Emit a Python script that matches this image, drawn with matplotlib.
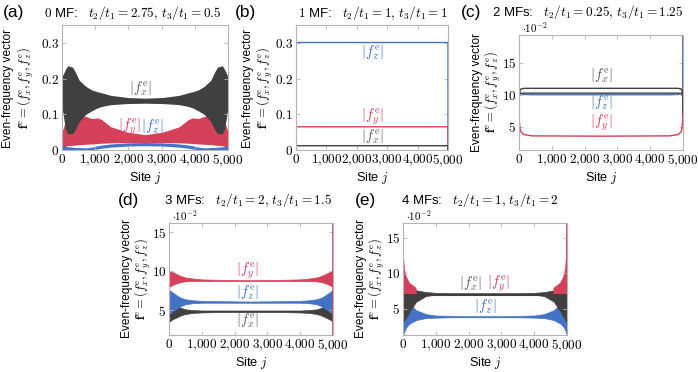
import matplotlib
matplotlib.use("Agg")
import matplotlib.pyplot as plt
from matplotlib.ticker import FixedLocator, FuncFormatter

plt.rcParams['mathtext.fontset'] = 'cm'
plt.rcParams['font.family'] = ['Liberation Sans', 'DejaVu Sans']

W, H = 698, 372
GRAY, RED, BLUE = '#404040', '#d5405a', '#4473c5'
FRAME = '#b4b4b4'

# (a) 0 MF
a_sites = [0, 100, 170, 320, 420, 520, 720, 900, 1070, 1200, 1470, 1970, 2500,
           3030, 3530, 3800, 3930, 4100, 4280, 4480, 4580, 4680, 4830, 4900, 5000]
a_fx_hi = [0.205, 0.225, 0.236, 0.232, 0.215, 0.195, 0.178, 0.168, 0.163, 0.160, 0.153, 0.147, 0.145,
           0.147, 0.153, 0.160, 0.163, 0.168, 0.178, 0.195, 0.215, 0.232, 0.236, 0.225, 0.205]
a_fx_lo = [0.120, 0.060, 0.045, 0.046, 0.060, 0.080, 0.100, 0.110, 0.118, 0.122, 0.127, 0.130, 0.131,
           0.130, 0.127, 0.122, 0.118, 0.110, 0.100, 0.080, 0.060, 0.046, 0.045, 0.060, 0.120]
a_fy_hi = [0.050, 0.080, 0.090, 0.095, 0.097, 0.097, 0.094, 0.088, 0.090, 0.085, 0.065, 0.050, 0.043,
           0.050, 0.065, 0.085, 0.090, 0.088, 0.094, 0.097, 0.097, 0.095, 0.090, 0.080, 0.050]
a_fy_lo = [0.004, 0.010, 0.012, 0.013, 0.014, 0.015, 0.016, 0.017, 0.018, 0.019, 0.020, 0.021, 0.021,
           0.021, 0.020, 0.019, 0.018, 0.017, 0.016, 0.015, 0.014, 0.013, 0.012, 0.010, 0.004]
a_fz_hi = [0.012, 0.010, 0.009, 0.008, 0.007, 0.007, 0.006, 0.008, 0.012, 0.014, 0.017, 0.020, 0.021,
           0.020, 0.017, 0.014, 0.012, 0.008, 0.006, 0.007, 0.007, 0.008, 0.009, 0.010, 0.012]
a_fz_lo = [0.000, 0.000, 0.000, 0.000, 0.000, 0.000, 0.000, 0.001, 0.003, 0.005, 0.008, 0.011, 0.012,
           0.011, 0.008, 0.005, 0.003, 0.001, 0.000, 0.000, 0.000, 0.000, 0.000, 0.000, 0.000]

# (b) 1 MF
b_sites = [0, 1, 4999, 5000]
b_fx = [0, 0.012, 0.012, 0]
b_fy = [0, 0.065, 0.065, 0]
b_fz = [0, 0.301, 0.301, 0]

# (c) 2 MFs (units of 1e-2)
c_sites = [0, 10, 30, 60, 150, 400, 2500, 4600, 4850, 4940, 4970, 4990, 5000]
c_fx_hi = [9.5, 10.3, 10.7, 10.9, 11.0, 11.0, 11.0, 11.0, 11.0, 10.9, 10.7, 10.3, 7.0]
c_fx_lo = [9.5, 9.9, 10.1, 10.2, 10.25, 10.25, 10.25, 10.25, 10.25, 10.2, 10.1, 9.9, 9.5]
c_fz = [20.0, 10.9, 10.4, 10.2, 10.05, 10.0, 10.0, 10.0, 10.05, 10.2, 10.4, 10.9, 20.0]
c_fy = [20.0, 6.0, 4.8, 4.2, 3.8, 3.6, 3.55, 3.6, 3.8, 4.2, 4.8, 6.0, 20.0]

# (d) 3 MFs (units of 1e-2)
d_sites = [0, 100, 200, 350, 500, 750, 1000, 1500, 2500, 3500, 4000, 4250, 4500, 4650, 4800, 4900, 5000]
d_fy_hi = [10.0, 9.9, 9.7, 9.4, 9.2, 9.05, 8.95, 8.9, 8.85, 8.9, 8.95, 9.05, 9.2, 9.4, 9.7, 9.9, 10.0]
d_fy_lo = [8.0, 8.2, 8.4, 8.6, 8.7, 8.75, 8.75, 8.75, 8.75, 8.75, 8.75, 8.75, 8.7, 8.6, 8.4, 8.2, 8.0]
d_fz_hi = [7.6, 7.3, 7.0, 6.6, 6.4, 6.25, 6.2, 6.15, 6.1, 6.15, 6.2, 6.25, 6.4, 6.6, 7.0, 7.3, 7.6]
d_fz_lo = [4.5, 4.8, 5.1, 5.5, 5.75, 5.9, 5.95, 5.95, 5.95, 5.95, 5.95, 5.9, 5.75, 5.5, 5.1, 4.8, 4.5]
d_fx_hi = [7.0, 6.2, 5.8, 5.3, 5.1, 5.0, 4.95, 4.95, 4.95, 4.95, 4.95, 5.0, 5.1, 5.3, 5.8, 6.2, 7.0]
d_fx_lo = [3.5, 3.8, 4.0, 4.3, 4.5, 4.65, 4.7, 4.75, 4.75, 4.75, 4.7, 4.65, 4.5, 4.3, 4.0, 3.8, 3.5]

# (e) 4 MFs (units of 1e-2)
e_sites = [0, 20, 50, 100, 200, 400, 700, 1000, 1500, 2500, 3500, 4000, 4300, 4600, 4800, 4900, 4950, 4980, 5000]
e_fy_hi = [17.5, 12.0, 10.5, 9.5, 8.6, 7.9, 7.45, 7.3, 7.2, 7.2, 7.2, 7.3, 7.45, 7.9, 8.6, 9.5, 10.5, 12.0, 17.5]
e_fy_lo = [7.0, 7.0, 7.0, 7.0, 7.0, 7.0, 7.0, 7.0, 7.0, 7.0, 7.0, 7.0, 7.0, 7.0, 7.0, 7.0, 7.0, 7.0, 7.0]
e_fx_hi = [10.5, 9.8, 9.3, 8.8, 8.2, 7.6, 7.35, 7.25, 7.2, 7.2, 7.2, 7.25, 7.35, 7.6, 8.2, 8.8, 9.3, 9.8, 10.5]
e_fx_lo = [3.0, 3.2, 3.4, 3.8, 4.6, 6.0, 6.8, 7.0, 7.05, 7.05, 7.05, 7.0, 6.8, 6.0, 4.6, 3.8, 3.4, 3.2, 3.0]
e_fz_hi = [7.0, 6.8, 6.6, 6.3, 5.7, 4.8, 4.25, 4.05, 4.0, 3.95, 4.0, 4.05, 4.25, 4.8, 5.7, 6.3, 6.6, 6.8, 7.0]
e_fz_lo = [1.0, 1.5, 1.9, 2.4, 2.9, 3.4, 3.7, 3.75, 3.8, 3.8, 3.8, 3.75, 3.7, 3.4, 2.9, 2.4, 1.9, 1.5, 1.0]

x_ticks = [0, 1000, 2000, 3000, 4000, 5000]
FS = 9.5

fig = plt.figure(figsize=(W / 100, H / 100), dpi=100)


def make_ax(x0, x1, y0, y1, ylim, yticks, ylabels):
    ax = fig.add_axes([x0 / W, 1 - y1 / H, (x1 - x0) / W, (y1 - y0) / H])
    ax.set_xlim(0, 5000)
    ax.set_ylim(*ylim)
    ax.xaxis.set_major_locator(FixedLocator(x_ticks))
    ax.xaxis.set_major_formatter(FuncFormatter(
        lambda v, p: r'$0$' if v == 0 else r'$%d{,}000$' % (v // 1000)))
    ax.set_yticks(yticks)
    ax.set_yticklabels(ylabels)
    ax.tick_params(direction='in', length=3, width=0.6, color=FRAME, top=True, right=True,
                   labelsize=FS, pad=2)
    for s in ax.spines.values():
        s.set_color(FRAME)
        s.set_linewidth(0.8)
    ax.set_xlabel(r'Site $j$', fontsize=9.2, labelpad=1)
    return ax


def ylab(x1, x2, yc):
    fig.text(x1 / W, 1 - yc / H, 'Even-frequency vector', rotation=90,
             ha='center', va='center', fontsize=8.6)
    fig.text(x2 / W, 1 - yc / H,
             r'$\mathbf{f}^{\rm e} = (f_x^{\rm e}, f_y^{\rm e}, f_z^{\rm e})$',
             rotation=90, ha='center', va='center', fontsize=9)


def title(letter, lx, tx, y, text):
    fig.text(lx / W, 1 - y / H, letter, ha='left', va='center', fontsize=12.5)
    fig.text(tx / W, 1 - y / H, text, ha='center', va='center', fontsize=FS)


def lab(ax, x, y, name, color):
    ax.text(x, y, r'$|f_%s^{\rm e}|$' % name, color=color, ha='center', va='center',
            fontsize=FS + 1)


def offset(ax):
    ax.text(0.02, 1.0, r'$\cdot 10^{-2}$', transform=ax.transAxes, fontsize=7.8,
            va='bottom', ha='left')


# ---- (a)
ax = make_ax(62, 228, 25, 150, (0, 0.35), [0, 0.1, 0.2, 0.3],
             [r'$0$', r'$0.1$', r'$0.2$', r'$0.3$'])
ax.fill_between(a_sites, a_fy_lo, a_fy_hi, color=RED, lw=0)
ax.fill_between(a_sites, a_fx_lo, a_fx_hi, color=GRAY, lw=0)
ax.fill_between(a_sites, a_fz_lo, a_fz_hi, color=BLUE, lw=0)
lab(ax, 2370, 0.171, 'x', '#606060')
lab(ax, 2020, 0.065, 'y', RED)
lab(ax, 2720, 0.065, 'z', BLUE)
ylab(8, 26, 88)
title('(a)', 3, 133, 13, r'$0$ MF:   $t_2/t_1 = 2.75,\, t_3/t_1 = 0.5$')

# ---- (b)
ax = make_ax(296, 448, 25, 150, (0, 0.35), [0, 0.1, 0.2, 0.3],
             [r'$0$', r'$0.1$', r'$0.2$', r'$0.3$'])
ax.plot(b_sites, b_fz, color=BLUE, lw=1)
ax.plot(b_sites, b_fy, color=RED, lw=1)
ax.plot(b_sites, b_fx, color=GRAY, lw=1)
lab(ax, 2500, 0.273, 'z', BLUE)
lab(ax, 2500, 0.094, 'y', RED)
lab(ax, 2500, 0.037, 'x', '#606060')
ylab(248, 265, 88)
title('(b)', 235, 373, 13, r'$1$ MF:   $t_2/t_1 = 1,\, t_3/t_1 = 1$')

# ---- (c)
ax = make_ax(519, 683, 35, 150, (1.4, 19.3), [5, 10, 15],
             [r'$5$', r'$10$', r'$15$'])
ax.plot(c_sites, c_fy, color=RED, lw=1)
ax.plot(c_sites, c_fz, color=BLUE, lw=1)
ax.plot(c_sites, c_fx_hi, color=GRAY, lw=1)
ax.plot(c_sites, c_fx_lo, color=GRAY, lw=1)
lab(ax, 2500, 13.0, 'x', '#606060')
lab(ax, 2500, 8.7, 'z', BLUE)
lab(ax, 2500, 5.6, 'y', RED)
offset(ax)
ylab(477, 493, 92)
title('(c)', 461, 588, 12, r'2 MFs:   $t_2/t_1 = 0.25,\, t_3/t_1 = 1.25$')

# ---- (d)
ax = make_ax(169, 333, 223, 335, (1.8, 16.2), [5, 10, 15],
             [r'$5$', r'$10$', r'$15$'])
ax.fill_between(d_sites, d_fx_lo, d_fx_hi, color=GRAY, lw=0.5, ec=GRAY)
ax.fill_between(d_sites, d_fz_lo, d_fz_hi, color=BLUE, lw=0.5, ec=BLUE)
ax.fill_between(d_sites, d_fy_lo, d_fy_hi, color=RED, lw=0.5, ec=RED)
ax.plot([0, 0], [1.8, 16.2], color=RED, lw=1.2)
ax.plot([5000, 5000], [1.8, 16.2], color=RED, lw=1.2)
lab(ax, 2400, 10.1, 'y', RED)
lab(ax, 2400, 7.3, 'z', BLUE)
lab(ax, 2400, 3.7, 'x', '#606060')
offset(ax)
ylab(127, 143, 279)
title('(d)', 118, 248, 200, r'3 MFs:   $t_2/t_1 = 2,\, t_3/t_1 = 1.5$')

# ---- (e)
ax = make_ax(403, 567, 223, 335, (1.3, 17.1), [5, 10, 15],
             [r'$5$', r'$10$', r'$15$'])
ax.fill_between(e_sites, e_fz_lo, e_fz_hi, color=BLUE, lw=0.5, ec=BLUE)
ax.fill_between(e_sites, e_fx_lo, e_fx_hi, color=GRAY, lw=0.5, ec=GRAY)
ax.fill_between(e_sites, e_fy_lo, e_fy_hi, where=[h > 7.6 for h in e_fy_hi],
                color=RED, lw=0.5, ec=RED)
ax.plot(e_sites, e_fy_lo, color=GRAY, lw=1.5)
lab(ax, 2050, 8.5, 'x', '#606060')
lab(ax, 2900, 8.5, 'y', RED)
lab(ax, 2500, 5.3, 'z', BLUE)
offset(ax)
ylab(361, 377, 279)
title('(e)', 355, 480, 200, r'4 MFs:   $t_2/t_1 = 1,\, t_3/t_1 = 2$')

fig.savefig('out.png', dpi=100)
